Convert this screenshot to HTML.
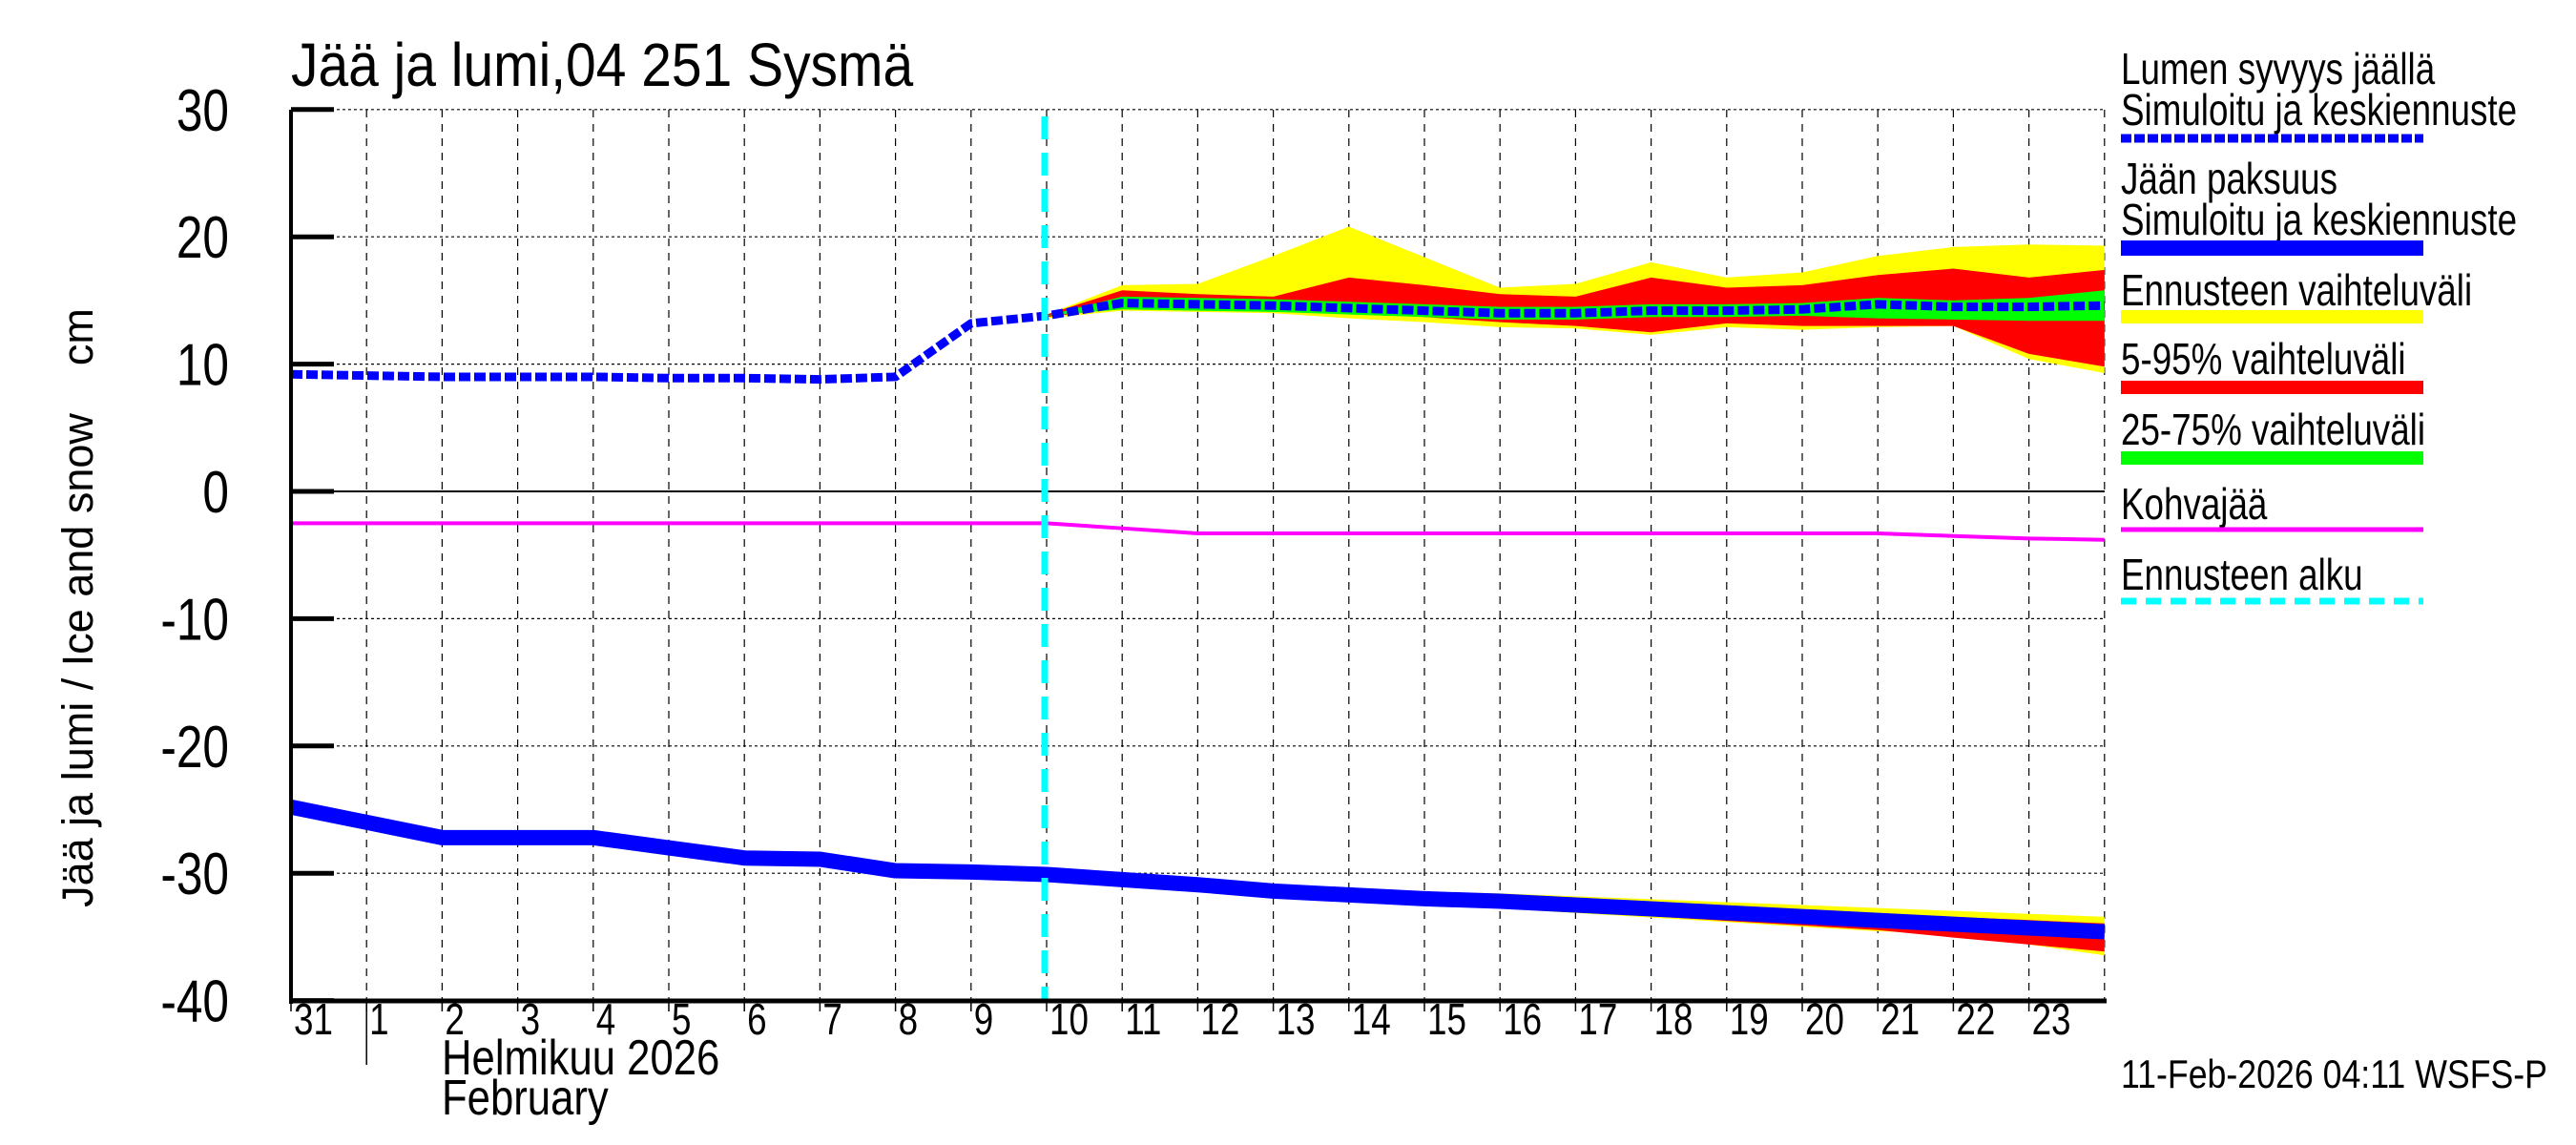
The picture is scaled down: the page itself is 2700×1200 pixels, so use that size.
<!DOCTYPE html>
<html><head><meta charset="utf-8">
<style>
html,body{margin:0;padding:0;background:#fff;}
svg{display:block;}
text{font-family:"Liberation Sans",sans-serif;fill:#000;}
</style></head>
<body>
<svg id="c" width="2700" height="1200" viewBox="0 0 2700 1200" xmlns="http://www.w3.org/2000/svg"></svg>
<script>
const X=d=>305+79.2*d, Y=v=>515-13.34*v;
let s='';
function poly(up,lo,col){let p=up.map((v,i)=>X(i+10)+','+Y(v));for(let i=lo.length-1;i>=0;i--)p.push(X(i+10)+','+Y(lo[i]));s+=`<polygon points="${p.join(' ')}" fill="${col}"/>`;}
function line(arr,start,col,w,dash){s+=`<polyline points="${arr.map((v,i)=>X(i+start)+','+Y(v)).join(' ')}" fill="none" stroke="${col}" stroke-width="${w}" ${dash?'stroke-dasharray="'+dash+'"':''} stroke-linejoin="round"/>`;}
for(let d=1;d<=24;d++) s+=`<line x1="${X(d)}" y1="115" x2="${X(d)}" y2="1049" stroke="#000" stroke-width="1.2" stroke-dasharray="8,7"/>`;
for(let v=30;v>-40;v-=10){ if(v!==0) s+=`<line x1="305" y1="${Y(v)}" x2="2206" y2="${Y(v)}" stroke="#000" stroke-width="1.2" stroke-dasharray="3,3"/>`;}
s+=`<line x1="305" y1="${Y(0)}" x2="2206" y2="${Y(0)}" stroke="#000" stroke-width="2"/>`;
const yU=[13.9,16.2,16.3,18.5,20.8,18.4,16,16.3,18,16.8,17.2,18.5,19.2,19.4,19.3];
const rU=[13.9,15.8,15.5,15.3,16.8,16.2,15.5,15.3,16.8,16.0,16.2,17.0,17.5,16.8,17.4];
const snow=[9.2,9.1,9.0,9.0,9.0,8.9,8.9,8.8,9.0,13.2,13.8,14.8,14.7,14.6,14.4,14.2,14.0,14.0,14.2,14.2,14.3,14.7,14.5,14.5,14.6];
const gU=snow.slice(10).map((v,i)=>i==0?v:v+0.5);gU[14]=15.8;gU[13]=15.2;gU[12]=15.0;
const gL=snow.slice(10).map((v,i)=>i==0?v:v-0.5);gL[11]=13.6;gL[12]=13.5;gL[13]=13.4;gL[14]=13.4;
const rL=[13.7,14.4,14.3,14.2,14.0,13.7,13.3,13.0,12.5,13.2,13.0,13.0,13.0,10.8,9.8];
const yL=[13.6,14.2,14.1,14.0,13.6,13.3,12.9,12.8,12.3,12.9,12.7,12.9,13.0,10.4,9.3];
poly(yU,yL,'#ffff00');poly(rU,rL,'#ff0000');poly(gU,gL,'#00ff00');
const ice=[-24.8,-26,-27.2,-27.2,-27.2,-28,-28.8,-28.9,-29.8,-29.9,-30.1,-30.5,-30.9,-31.4,-31.7,-32,-32.2,-32.5,-32.8,-33.1,-33.4,-33.7,-34,-34.3,-34.6];
const iF=ice.slice(10);
poly(iF.map((v,i)=>v+0.2+i*0.07),iF.map((v,i)=>v-0.2-(i>11?(i-11)*0.55:i*0.06)),'#ffff00');
poly(iF.map((v,i)=>v+0.1+i*0.04),iF.map((v,i)=>v-0.1-(i>11?0.7+(i-11)*0.25:i*0.06)),'#ff0000');
line([-2.5,-2.5,-2.5,-2.5,-2.5,-2.5,-2.5,-2.5,-2.5,-2.5,-2.5,-2.9,-3.3,-3.3,-3.3,-3.3,-3.3,-3.3,-3.3,-3.3,-3.3,-3.3,-3.5,-3.7,-3.8],0,'#ff00ff',4);
line(ice,0,'#0000ff',16);
line(snow,0,'#0000ff',9,'12,4');
s+=`<line x1="${X(10)-2}" y1="122" x2="${X(10)-2}" y2="1049" stroke="#00ffff" stroke-width="7" stroke-dasharray="24,14"/>`;
s+=`<line x1="305" y1="115" x2="305" y2="1052" stroke="#000" stroke-width="4"/>`;
s+=`<line x1="303" y1="1049" x2="2208" y2="1049" stroke="#000" stroke-width="5"/>`;
const ct=(x,y,fs,t,anc,sx)=>`<text x="${x}" y="${y}" font-size="${fs}" ${anc?'text-anchor="'+anc+'"':''} transform="translate(${x} 0) scale(${sx||0.85} 1) translate(${-x} 0)">${t}</text>`;
for(let v=30;v>=-40;v-=10){s+=`<line x1="305" y1="${Y(v)}" x2="350" y2="${Y(v)}" stroke="#000" stroke-width="5"/>`;
 s+=ct(240,Y(v)+22,62,v,'end',0.8);}
const lab=[31,1,2,3,4,5,6,7,8,9,10,11,12,13,14,15,16,17,18,19,20,21,22,23];
lab.forEach((l,i)=>{s+=`<line x1="${X(i)}" y1="1049" x2="${X(i)}" y2="1060" stroke="#000" stroke-width="1.5"/>`;
 s+=ct(X(i)+3,1084,46,l,null,0.8);});
s+=`<line x1="${X(1)}" y1="1049" x2="${X(1)}" y2="1116" stroke="#000" stroke-width="1.5"/>`;
s+=ct(463,1126,52,'Helmikuu  2026',null,0.84);
s+=ct(463,1168,52,'February',null,0.84);
s+=ct(2670,1140,42,'11-Feb-2026 04:11 WSFS-P','end',0.85);
s+=ct(305,90,64,'Jää ja lumi,04 251 Sysmä',null,0.89);
s+=`<text x="97" y="637" font-size="45" text-anchor="middle" transform="rotate(-90 97 637)" xml:space="preserve">Jää ja lumi / Ice and snow    cm</text>`;
const L=2223;
const lt=[[88,'Lumen syvyys jäällä'],[131,'Simuloitu ja keskiennuste'],[203,'Jään paksuus'],[246,'Simuloitu ja keskiennuste'],[320,'Ennusteen vaihteluväli'],[392,'5-95% vaihteluväli'],[466,'25-75% vaihteluväli'],[544,'Kohvajää'],[618,'Ennusteen alku']];
lt.forEach(([y,t])=>s+=ct(L,y,46,t,null,0.8));
s+=`<line x1="${L}" y1="145" x2="2540" y2="145" stroke="#0000ff" stroke-width="9" stroke-dasharray="11,3"/>`;
s+=`<line x1="${L}" y1="260" x2="2540" y2="260" stroke="#0000ff" stroke-width="16"/>`;
s+=`<line x1="${L}" y1="332" x2="2540" y2="332" stroke="#ffff00" stroke-width="14"/>`;
s+=`<line x1="${L}" y1="406" x2="2540" y2="406" stroke="#ff0000" stroke-width="14"/>`;
s+=`<line x1="${L}" y1="480" x2="2540" y2="480" stroke="#00ff00" stroke-width="14"/>`;
s+=`<line x1="${L}" y1="555" x2="2540" y2="555" stroke="#ff00ff" stroke-width="5"/>`;
s+=`<line x1="${L}" y1="630" x2="2540" y2="630" stroke="#00ffff" stroke-width="7" stroke-dasharray="16,10"/>`;
document.getElementById('c').innerHTML=s;
</script>
</body></html>
